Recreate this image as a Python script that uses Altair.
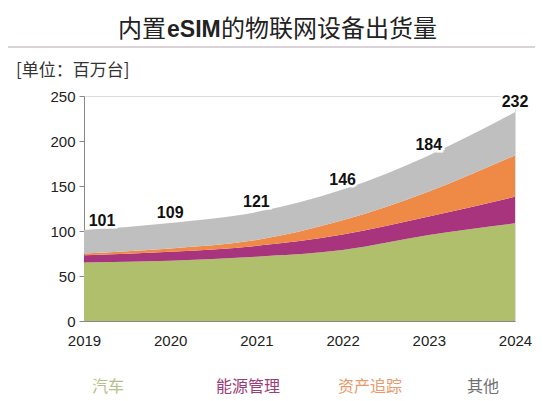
import altair as alt
import pandas as pd

years = [2019, 2020, 2021, 2022, 2023, 2024]
series = ["汽车", "能源管理", "资产追踪", "其他"]
car = [65, 67, 71.5, 79, 95.5, 108.5]
energy = [8, 10, 12, 17, 20.5, 29.5]
asset = [2, 3.5, 6.5, 16, 28, 46]
totals = [101, 109, 121, 146, 184, 232]
colors = ["#b0bf6c", "#a8347e", "#ee8a45", "#bfbfbf"]
legend_colors = ["#b3c088", "#9b3c76", "#e89a6c", "#707070"]

other = [t - c - e - a for t, c, e, a in zip(totals, car, energy, asset)]
vals = [car, energy, asset, other]

rows = []
for i, s in enumerate(series):
    for y, v in zip(years, vals[i]):
        rows.append({"year": y, "series": s, "value": v, "ord": i})
df = pd.DataFrame(rows)
tot = pd.DataFrame({"year": years, "total": totals})

FONT = "Liberation Sans"
CJK = "Noto Sans CJK SC"

xenc = alt.X("year:Q", scale=alt.Scale(domain=[2019, 2024], nice=False),
             axis=alt.Axis(values=years, format="d", title=None, ticks=False,
                           grid=False, labelFontSize=15, labelColor="#222",
                           labelFont=FONT, labelPadding=12, domainColor="#888",
                           labelFlush=False))
yenc = alt.Y("value:Q", stack="zero", scale=alt.Scale(domain=[0, 250], nice=False),
             axis=alt.Axis(values=[0, 50, 100, 150, 200, 250], title=None, grid=False,
                           tickSize=5, tickColor="#888", domainColor="#888",
                           labelFontSize=15, labelColor="#222", labelFont=FONT,
                           labelPadding=4))

area = alt.Chart(df).mark_area(interpolate="monotone").encode(
    x=xenc,
    y=yenc,
    color=alt.Color("series:N", scale=alt.Scale(domain=series, range=colors), legend=None),
    order=alt.Order("ord:Q"),
)

ty = alt.Y("total:Q", scale=alt.Scale(domain=[0, 250], nice=False))
tx = alt.X("year:Q", scale=alt.Scale(domain=[2019, 2024], nice=False))
base_t = alt.Chart(tot)
halo_rest = base_t.transform_filter("datum.year > 2019").mark_text(
    dy=-10, fontSize=16, fontWeight="bold", font=FONT, stroke="white", strokeWidth=5, color="white"
).encode(x=tx, y=ty, text="total:Q")
lab_rest = base_t.transform_filter("datum.year > 2019").mark_text(
    dy=-10, fontSize=16, fontWeight="bold", font=FONT, color="#111"
).encode(x=tx, y=ty, text="total:Q")
halo_first = base_t.transform_filter("datum.year == 2019").mark_text(
    dy=-9, dx=18, fontSize=16, fontWeight="bold", font=FONT, stroke="white", strokeWidth=5, color="white"
).encode(x=tx, y=ty, text="total:Q")
lab_first = base_t.transform_filter("datum.year == 2019").mark_text(
    dy=-9, dx=18, fontSize=16, fontWeight="bold", font=FONT, color="#111"
).encode(x=tx, y=ty, text="total:Q")

one = pd.DataFrame({"a": [0]})
def txt(t, x, y, size, color, font=CJK, weight="normal", align="left"):
    return alt.Chart(one).mark_text(text=t, fontSize=size, color=color, font=font,
                                     fontWeight=weight, align=align, baseline="middle").encode(
        x=alt.value(x), y=alt.value(y))

title1 = txt("内置", 34, -66, 24, "#222")
title2 = txt("eSIM", 83, -66, 23, "#222", font=FONT, weight="bold")
title3 = txt("的物联网设备出货量", 137, -66, 24, "#222")
sub = txt("[单位：百万台]", -68, -25, 17, "#333")
rule = alt.Chart(one).mark_rule(color="#b8a6b2", strokeWidth=1).encode(
    x=alt.value(-76), x2=alt.value(451), y=alt.value(-49))

leg_x = [24, 164, 286, 399]
legs = [txt(s, lx, 291, 16, c, align="center", weight="normal") for s, lx, c in zip(series, leg_x, legend_colors)]

chart = alt.layer(area, halo_rest, lab_rest, halo_first, lab_first, rule,
                  title1, title2, title3, sub, *legs).properties(
    width=431, height=225,
    autosize=alt.AutoSizeParams(type="none"),
    padding={"left": 76, "top": 88, "right": 20, "bottom": 80},
).configure_view(stroke=None).configure(background="white")

chart.save("out.html", embed_options={"renderer": "svg", "actions": False})
